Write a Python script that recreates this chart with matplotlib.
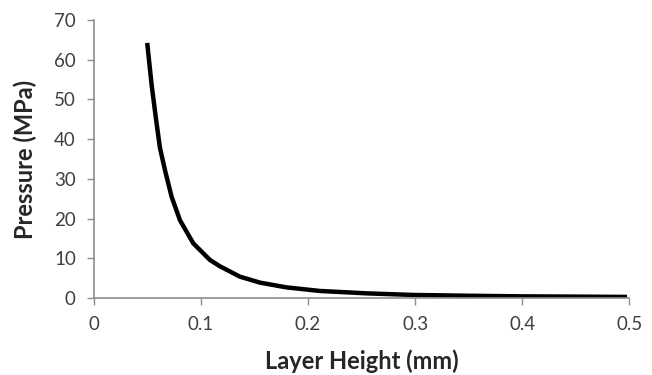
import matplotlib.pyplot as plt

# values
layer_height = [0.0498, 0.0539, 0.0579, 0.0617, 0.0664, 0.0726, 0.0804,
                0.0928, 0.1084, 0.1178, 0.1364, 0.1551, 0.180, 0.2112,
                0.2548, 0.298, 0.35, 0.398, 0.45, 0.498]
pressure = [64.2, 53.7, 45.3, 37.8, 32.2, 25.5, 19.6,
            13.8, 9.6, 8.0, 5.4, 3.9, 2.7, 1.8,
            1.2, 0.8, 0.6, 0.45, 0.38, 0.3]

x_ticks = [0, 0.1, 0.2, 0.3, 0.4, 0.5]
x_labels = ["0", "0.1", "0.2", "0.3", "0.4", "0.5"]
y_ticks = [0, 10, 20, 30, 40, 50, 60, 70]

plt.rcParams["font.family"] = ["Lato", "DejaVu Sans"]

fig = plt.figure(figsize=(6.52, 3.75), dpi=100)
ax = fig.add_axes([0.144, 0.205, 0.821, 0.742])

ax.plot(layer_height, pressure, color="black", linewidth=3.2,
        solid_capstyle="butt", solid_joinstyle="round")

ax.set_xlim(0, 0.5)
ax.set_ylim(0, 70)
ax.set_xticks(x_ticks)
ax.set_xticklabels(x_labels)
ax.set_yticks(y_ticks)

for side in ["top", "right"]:
    ax.spines[side].set_visible(False)
for side in ["left", "bottom"]:
    ax.spines[side].set_color("#8c8c8c")
    ax.spines[side].set_linewidth(1.2)

ax.tick_params(axis="both", colors="#8c8c8c", length=5, width=1.0,
               labelsize=13.5, labelcolor="#404040")
ax.tick_params(axis="x", pad=8)
ax.tick_params(axis="y", pad=8)

ax.set_xlabel("Layer Height (mm)", fontsize=17, fontweight="bold",
              color="#262626", labelpad=12)
ax.set_ylabel("Pressure (MPa)", fontsize=17, fontweight="bold",
              color="#262626", labelpad=12)

plt.savefig("out.png", dpi=100)
